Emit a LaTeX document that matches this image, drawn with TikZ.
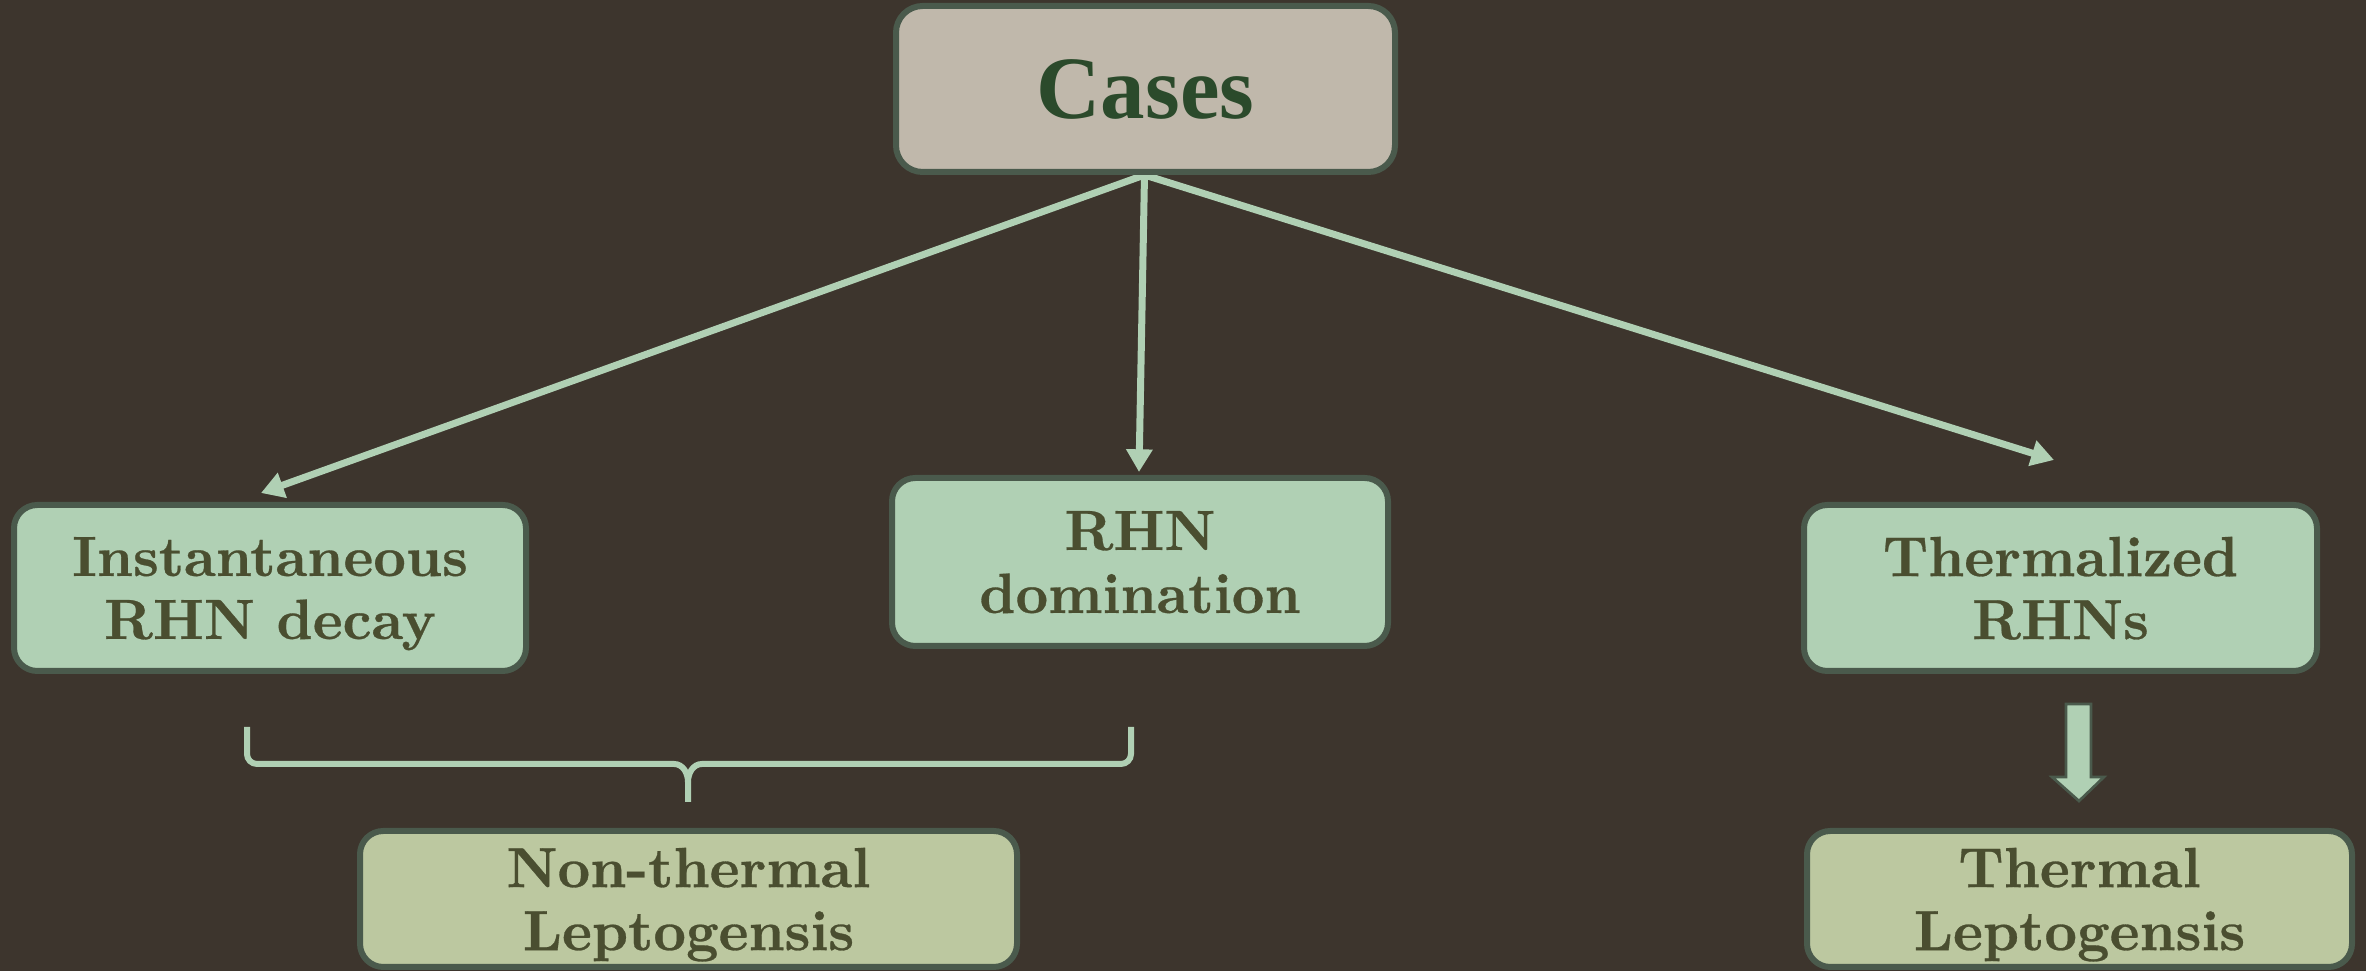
\documentclass[tikz,border=0pt]{standalone}
\usepackage{fontspec}
\newfontfamily\casesfont{Liberation Serif}
\newfontfamily\heavylm{lmroman10-bold.otf}[FakeBold=0.5]
\usetikzlibrary{arrows.meta,calc,backgrounds}
\definecolor{bgc}{HTML}{3D352D}
\definecolor{bord}{HTML}{4A5A4C}
\definecolor{lgreen}{HTML}{B0D0B4}
\definecolor{casesfill}{HTML}{C0B8AB}
\definecolor{bottomfill}{HTML}{BCC8A0}
\definecolor{textol}{HTML}{4A4E30}
\definecolor{casestext}{HTML}{2B4A2B}
\pgfdeclarelayer{bottomlayer}
\pgfsetlayers{bottomlayer,background,main}
\tikzset{
  box/.style={draw=bord, line width=1.8pt, rounded corners=7pt, align=center,
    text=textol, font=\heavylm\fontsize{17.0}{18.9}\selectfont, inner sep=0pt, text depth=0pt},
  greenbox/.style={box, fill=lgreen, minimum height=49.8pt},
  leptobox/.style={box, fill=bottomfill, minimum height=40.8pt},
  conn/.style={draw=lgreen, line width=2.1pt, -{Triangle[length=6.8pt,width=7.6pt]}},
  bracestyle/.style={draw=lgreen, line width=1.8pt},
  blockarrow/.style={fill=lgreen, draw=bord, line width=0.8pt}
}
\begin{document}
\begin{tikzpicture}[x=0.3pt, y=-0.3pt]
\begin{pgfonlayer}{bottomlayer}
\fill[bgc] (0,0) rectangle (2366,971);
\end{pgfonlayer}
\useasboundingbox (0,0) rectangle (2366,971);

\node[box, fill=casesfill, rounded corners=8pt, minimum width=149.7pt, minimum height=49.8pt,
  text=casestext, text depth=-1.8pt, font=\casesfont\fontsize{26.7}{30}\selectfont\bfseries] (cases) at (1145.5,89) {Cases};

\node[greenbox, minimum width=153.6pt] (inst) at (270,588) {Instantaneous\\RHN decay};
\node[greenbox, minimum width=148.8pt, minimum height=50.4pt] (rhn) at (1140,562) {RHN\\domination};
\node[greenbox, minimum width=153.9pt] (therm) at (2060.5,588) {Thermalized\\RHNs};

\node[leptobox, minimum width=197.1pt] (nonth) at (688.5,899) {Non-thermal\\Leptogensis};
\node[leptobox, minimum width=163.5pt] (thlep) at (2079.5,899) {Thermal\\Leptogensis};

\begin{pgfonlayer}{background}
\draw[conn] ($(cases.south)+(-1,0)$) -- ($(inst.north)+(-9,-9)$);
\draw[conn] ($(cases.south)+(-1,0)$) -- ($(rhn.north)+(-1,-3)$);
\draw[conn] ($(cases.south)+(-1,0)$) -- ($(therm.north)+(-6.5,-42)$);
\end{pgfonlayer}

% brace
\coordinate (bl) at (247,727);
\coordinate (br) at (1131,727);
\coordinate (btip) at (688,802);
\draw[bracestyle] (bl) -- (247,754) to[out=-90,in=180] (257,764) -- (674,764)
  to[out=0,in=90] (688,782) -- (btip);
\draw[bracestyle] (br) -- (1131,754) to[out=-90,in=0] (1121,764) -- (702,764)
  to[out=180,in=90] (688,782);

% block arrow
\draw[blockarrow] (2066,704) -- (2091,704) -- (2091,777) -- (2104,777) -- (2079,801)
  -- (2052,777) -- (2066,777) -- cycle;
\end{tikzpicture}
\end{document}
